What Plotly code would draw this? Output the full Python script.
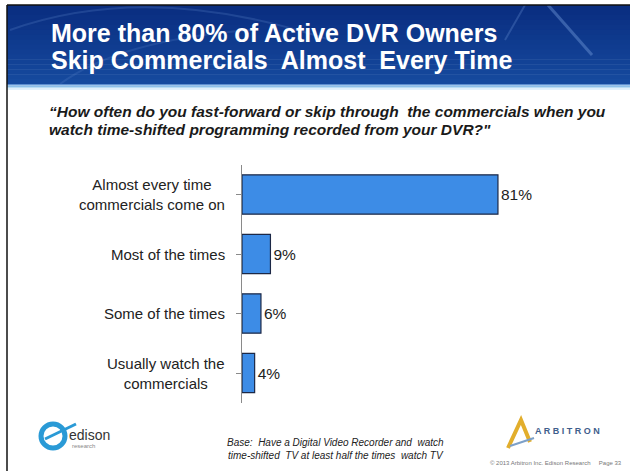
import plotly.graph_objects as go

# Survey responses (top to bottom)
categories = [
    "Almost every time<br>commercials come on",
    "Most of the times",
    "Some of the times",
    "Usually watch the<br>commercials",
]
shares = [81, 9, 6, 4]

W, H = 630, 471


def px(x):
    return x / W


def py(y):
    return 1 - y / H


fig = go.Figure()

fig.add_trace(go.Bar(
    y=list(range(len(categories))),
    x=shares,
    orientation="h",
    marker=dict(color="#3d8ce6", line=dict(color="#1c2846", width=1.2)),
    text=[f"{v}%" for v in shares],
    textposition="outside",
    outsidetextfont=dict(family="Arial, Liberation Sans, sans-serif", size=15.5, color="#222222"),
    cliponaxis=False,
    hoverinfo="skip",
))

shapes = []

# Header band with a vertical gradient
top, bottom = 5, 84
steps = 16
c0 = (10, 46, 128)
c1 = (22, 74, 158)
for i in range(steps):
    t = i / (steps - 1)
    col = tuple(int(c0[k] + (c1[k] - c0[k]) * t) for k in range(3))
    y0 = top + (bottom - top) * i / steps
    y1 = top + (bottom - top) * (i + 1) / steps + 0.5
    shapes.append(dict(type="rect", xref="paper", yref="paper",
                       x0=px(7), x1=1, y0=py(y0), y1=py(y1),
                       fillcolor="rgb(%d,%d,%d)" % col, line=dict(width=0), layer="below"))

# Light strip under the header
strip = [(84, "#5d8fd0"), (85.5, "#8dbfe8"), (87, "#b9dcf3"), (88.5, "#e2f1fb")]
for y0, col in strip:
    shapes.append(dict(type="rect", xref="paper", yref="paper",
                       x0=px(7), x1=1, y0=py(y0), y1=py(y0 + 1.6),
                       fillcolor=col, line=dict(width=0), layer="below"))

# Faint decorative strokes in the header
deco = [
    dict(x0=548, y0=5, x1=592, y1=55, color="rgba(110,150,215,0.45)", w=3),
    dict(x0=525, y0=5, x1=505, y1=40, color="rgba(110,150,215,0.30)", w=2),
]
for d in deco:
    shapes.append(dict(type="line", xref="paper", yref="paper",
                       x0=px(d["x0"]), y0=py(d["y0"]), x1=px(d["x1"]), y1=py(d["y1"]),
                       line=dict(color=d["color"], width=d["w"]), layer="below"))
shapes.append(dict(type="path", xref="paper", yref="paper",
                   path="M %f %f Q %f %f %f %f" % (px(10), py(30), px(150), py(-20), px(330), py(40)),
                   line=dict(color="rgba(110,150,215,0.22)", width=2), layer="below"))
shapes.append(dict(type="path", xref="paper", yref="paper",
                   path="M %f %f Q %f %f %f %f" % (px(60), py(84), px(120), py(40), px(250), py(30)),
                   line=dict(color="rgba(110,150,215,0.18)", width=2), layer="below"))

# Slide frame
shapes.append(dict(type="line", xref="paper", yref="paper",
                   x0=px(7), x1=px(7), y0=py(5), y1=0,
                   line=dict(color="#111111", width=1.5)))
shapes.append(dict(type="line", xref="paper", yref="paper",
                   x0=px(7), x1=1, y0=py(5), y1=py(5),
                   line=dict(color="#111111", width=1.5)))

# Edison logo mark
shapes.append(dict(type="circle", xref="paper", yref="paper",
                   x0=px(41), x1=px(65), y0=py(424), y1=py(448),
                   line=dict(color="#2a9ad6", width=5)))
shapes.append(dict(type="path", xref="paper", yref="paper",
                   path="M %f %f L %f %f" % (px(45), py(439), px(76), py(424)),
                   line=dict(color="#2a9ad6", width=3)))

# Arbitron chevron
shapes.append(dict(type="path", xref="paper", yref="paper",
                   path="M %f %f L %f %f L %f %f" % (px(508), py(448), px(521), py(420), px(530), py(442)),
                   line=dict(color="#e2ae2c", width=4)))
shapes.append(dict(type="path", xref="paper", yref="paper",
                   path="M %f %f L %f %f" % (px(510), py(446), px(534), py(438)),
                   line=dict(color="#7da0c8", width=2)))

ann = []
font_main = "Arial, Liberation Sans, sans-serif"

ann.append(dict(text="<b>More than 80% of Active DVR Owners</b>", x=px(49), y=py(33),
                xref="paper", yref="paper", xanchor="left", yanchor="middle", showarrow=False,
                font=dict(family=font_main, size=25, color="white")))
ann.append(dict(text="<b>Skip Commercials  Almost  Every Time</b>", x=px(49), y=py(60),
                xref="paper", yref="paper", xanchor="left", yanchor="middle", showarrow=False,
                font=dict(family=font_main, size=25, color="white")))

ann.append(dict(text="<b><i>\u201cHow often do you fast-forward or skip through  the commercials when you</i></b>",
                x=px(47), y=py(112), xref="paper", yref="paper", xanchor="left", yanchor="middle",
                showarrow=False, font=dict(family=font_main, size=15.5, color="#1a1a1a")))
ann.append(dict(text="<b><i>watch time-shifted programming recorded from your DVR?\"</i></b>",
                x=px(47), y=py(130), xref="paper", yref="paper", xanchor="left", yanchor="middle",
                showarrow=False, font=dict(family=font_main, size=15.5, color="#1a1a1a")))

# Category labels, centred lines, right edge next to the axis
for i, c in enumerate(categories):
    ann.append(dict(text=c, x=0.0, xshift=-15, y=i, xref="x domain", yref="y",
                    xanchor="right", yanchor="middle", align="center", showarrow=False,
                    font=dict(family=font_main, size=15, color="#222222")))

# Footer
ann.append(dict(text="<i>Base:  Have a Digital Video Recorder and  watch<br>time-shifted  TV at least half the times  watch TV</i>",
                x=px(335), y=py(449), xref="paper", yref="paper", xanchor="center", yanchor="middle",
                align="center", showarrow=False,
                font=dict(family=font_main, size=10, color="#222222")))
ann.append(dict(text="edison", x=px(67), y=py(435), xref="paper", yref="paper",
                xanchor="left", yanchor="middle", showarrow=False,
                font=dict(family=font_main, size=14, color="#333333")))
ann.append(dict(text="research", x=px(70), y=py(446), xref="paper", yref="paper",
                xanchor="left", yanchor="middle", showarrow=False,
                font=dict(family=font_main, size=6, color="#888888")))
ann.append(dict(text="<b>A R B I T R O N</b>", x=px(533), y=py(431), xref="paper", yref="paper",
                xanchor="left", yanchor="middle", showarrow=False,
                font=dict(family=font_main, size=9, color="#3f5e8c")))
ann.append(dict(text="\u00a9 2013 Arbitron Inc. Edison Research     Page 33", x=px(624), y=py(463),
                xref="paper", yref="paper", xanchor="right", yanchor="middle", showarrow=False,
                font=dict(family=font_main, size=6, color="#777777")))

fig.update_layout(
    width=W, height=H,
    margin=dict(l=0, r=0, t=0, b=0),
    paper_bgcolor="white", plot_bgcolor="white",
    showlegend=False,
    bargap=0.34,
    shapes=shapes,
    annotations=ann,
    xaxis=dict(domain=[px(242), px(558)], range=[0, 100], visible=False, fixedrange=True),
    yaxis=dict(domain=[py(402.75), py(164.75)], range=[3.5, -0.5],
               tickmode="array", tickvals=[0, 1, 2, 3], ticktext=["", "", "", ""],
               showline=True, linecolor="#8a8a8a", linewidth=1,
               ticks="outside", ticklen=5, tickcolor="#8a8a8a", tickson="boundaries",
               showgrid=False, zeroline=False, fixedrange=True),
)

fig.write_html("out.html")
